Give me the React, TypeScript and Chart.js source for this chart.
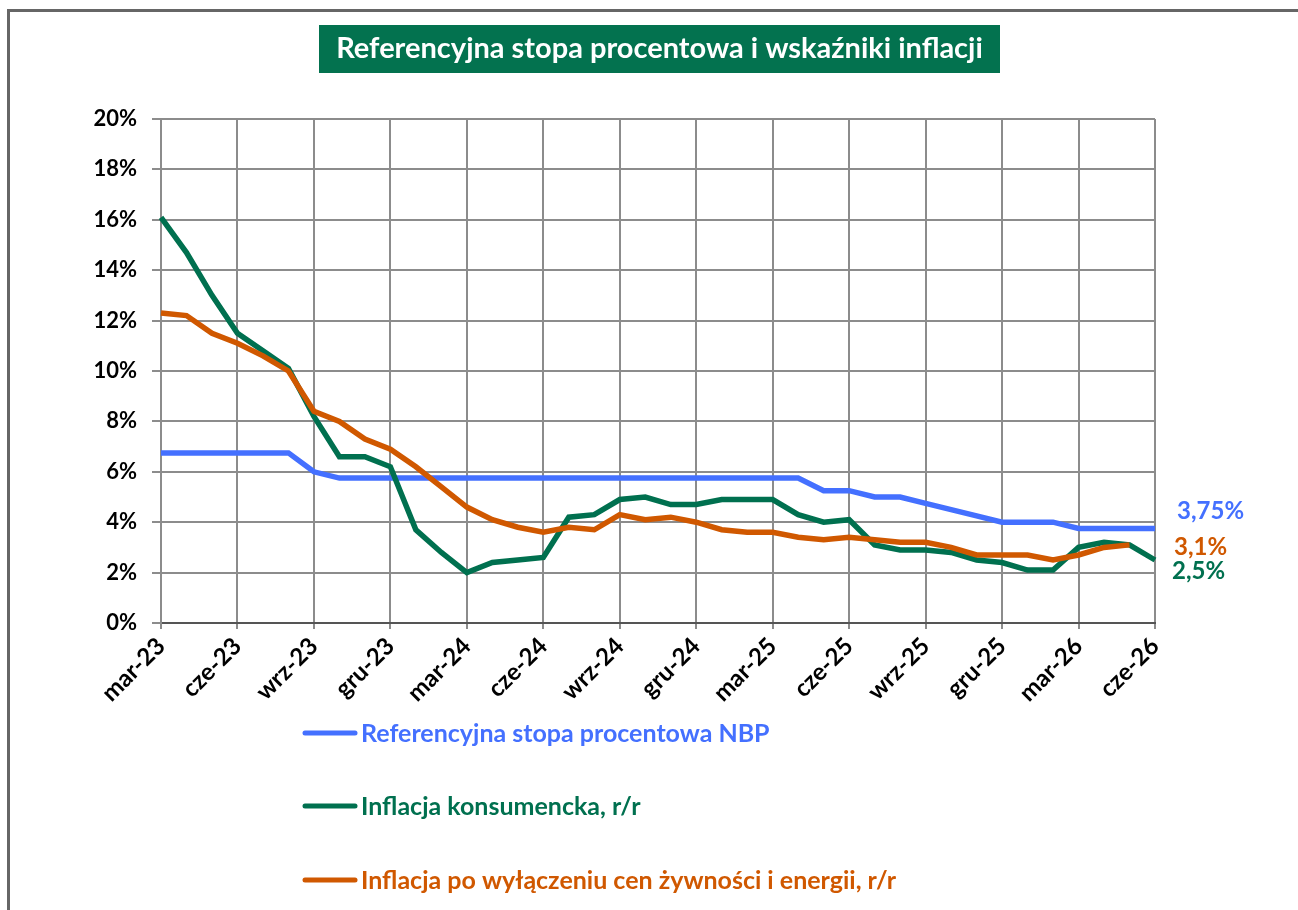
import React, { useEffect, useRef } from 'react';
import { Chart, registerables } from 'chart.js';

Chart.register(...registerables);

const FONT = 'Lato, "Open Sans", "DejaVu Sans", sans-serif';

const chartTitle = 'Referencyjna stopa procentowa i wskaźniki inflacji';

const months = [
  'mar-23', 'kwi-23', 'maj-23', 'cze-23', 'lip-23', 'sie-23', 'wrz-23', 'paź-23', 'lis-23', 'gru-23',
  'sty-24', 'lut-24', 'mar-24', 'kwi-24', 'maj-24', 'cze-24', 'lip-24', 'sie-24', 'wrz-24', 'paź-24', 'lis-24', 'gru-24',
  'sty-25', 'lut-25', 'mar-25', 'kwi-25', 'maj-25', 'cze-25', 'lip-25', 'sie-25', 'wrz-25', 'paź-25', 'lis-25', 'gru-25',
  'sty-26', 'lut-26', 'mar-26', 'kwi-26', 'maj-26', 'cze-26',
];

const nbpRate = [
  6.75, 6.75, 6.75, 6.75, 6.75, 6.75, 6.0, 5.75, 5.75, 5.75,
  5.75, 5.75, 5.75, 5.75, 5.75, 5.75, 5.75, 5.75, 5.75, 5.75,
  5.75, 5.75, 5.75, 5.75, 5.75, 5.75, 5.25, 5.25, 5.0, 5.0,
  4.75, 4.5, 4.25, 4.0, 4.0, 4.0, 3.75, 3.75, 3.75, 3.75,
];

const cpiInflation = [
  16.1, 14.7, 13.0, 11.5, 10.8, 10.1, 8.2, 6.6, 6.6, 6.2,
  3.7, 2.8, 2.0, 2.4, 2.5, 2.6, 4.2, 4.3, 4.9, 5.0,
  4.7, 4.7, 4.9, 4.9, 4.9, 4.3, 4.0, 4.1, 3.1, 2.9,
  2.9, 2.8, 2.5, 2.4, 2.1, 2.1, 3.0, 3.2, 3.1, 2.5,
];

const coreInflation = [
  12.3, 12.2, 11.5, 11.1, 10.6, 10.0, 8.4, 8.0, 7.3, 6.9,
  6.2, 5.4, 4.6, 4.1, 3.8, 3.6, 3.8, 3.7, 4.3, 4.1,
  4.2, 4.0, 3.7, 3.6, 3.6, 3.4, 3.3, 3.4, 3.3, 3.2,
  3.2, 3.0, 2.7, 2.7, 2.7, 2.5, 2.7, 3.0, 3.1, null,
];

const seriesNames = [
  'Referencyjna stopa procentowa NBP',
  'Inflacja konsumencka, r/r',
  'Inflacja po wyłączeniu cen żywności i energii, r/r',
];
const seriesColors = ['#4470FF', '#00704F', '#D05800'];

const yMin = 0;
const yMax = 20;
const yStep = 2;
const labelEvery = 3;

const fmtPct = (v: number) => String(v).replace('.', ',') + '%';

const decorPlugin = {
  id: 'decor',
  beforeDraw(chart: any) {
    const ctx = chart.ctx;
    ctx.save();
    ctx.fillStyle = '#ffffff';
    ctx.fillRect(0, 0, chart.width, chart.height);
    ctx.strokeStyle = '#666666';
    ctx.lineWidth = 3;
    ctx.beginPath();
    ctx.moveTo(8.5, chart.height);
    ctx.lineTo(8.5, 10.5);
    ctx.lineTo(chart.width, 10.5);
    ctx.stroke();
    // title box
    ctx.fillStyle = '#03724F';
    ctx.fillRect(319, 25, 681, 48);
    ctx.fillStyle = '#ffffff';
    ctx.font = `bold 29px ${FONT}`;
    ctx.textAlign = 'center';
    ctx.textBaseline = 'middle';
    ctx.fillText(chartTitle, 659.5, 49);
    ctx.restore();
  },
  afterDraw(chart: any) {
    const ctx = chart.ctx;
    const ca = chart.chartArea;
    const ys = chart.scales.y;
    // per dataset: blue, green, orange
    const offsets = [-17, 11, 2];
    const xOff = [22, 17, 19];
    ctx.save();
    ctx.font = `bold 24px ${FONT}`;
    ctx.textAlign = 'left';
    ctx.textBaseline = 'middle';
    chart.data.datasets.forEach((ds: any, i: number) => {
      let v: number | null = null;
      for (let k = ds.data.length - 1; k >= 0; k--) {
        if (ds.data[k] !== null && ds.data[k] !== undefined) { v = ds.data[k]; break; }
      }
      if (v === null) return;
      ctx.fillStyle = ds.borderColor;
      ctx.fillText(fmtPct(v), ca.right + xOff[i], ys.getPixelForValue(v) + offsets[i]);
    });
    // legend
    const legendY = [733, 806, 880];
    ctx.font = `bold 25px ${FONT}`;
    chart.data.datasets.forEach((ds: any, i: number) => {
      ctx.strokeStyle = ds.borderColor;
      ctx.lineWidth = 5;
      ctx.lineCap = 'round';
      ctx.beginPath();
      ctx.moveTo(305, legendY[i]);
      ctx.lineTo(355, legendY[i]);
      ctx.stroke();
      ctx.fillStyle = ds.borderColor;
      ctx.fillText(ds.label, 361, legendY[i] + 1);
    });
    ctx.restore();
  },
};

export default function App() {
  const ref = useRef<HTMLCanvasElement | null>(null);
  useEffect(() => {
    if (!ref.current) return;
    const gridColor = (c: any) => (c.index % labelEvery === 0 ? '#8c8c8c' : 'rgba(0,0,0,0)');
    const datasets = [nbpRate, cpiInflation, coreInflation].map((d, i) => ({
      label: seriesNames[i],
      data: d,
      borderColor: seriesColors[i],
      backgroundColor: seriesColors[i],
      borderWidth: 5.5,
      pointRadius: 0,
      tension: 0,
      fill: false,
      spanGaps: false,
      order: 2 - i,
    }));
    const chart = new Chart(ref.current, {
      type: 'line',
      data: { labels: months, datasets },
      plugins: [decorPlugin],
      options: {
        responsive: false,
        animation: false,
        layout: { padding: { left: 0, top: 119, right: 143, bottom: 0 } },
        plugins: { legend: { display: false }, tooltip: { enabled: false }, title: { display: false } },
        scales: {
          x: {
            type: 'category',
            offset: false,
            grid: { color: gridColor, lineWidth: 2, tickLength: 6, drawOnChartArea: true },
            border: { color: '#555555', width: 2 },
            ticks: {
              autoSkip: false,
              minRotation: 45,
              maxRotation: 45,
              padding: 3,
              color: '#000000',
              font: { family: FONT, size: 24, weight: 'bold' },
              callback: (val: any, idx: number) => (idx % labelEvery === 0 ? months[idx] : ''),
            },
            afterFit: (s: any) => { s.height = 910 - 623; },
          },
          y: {
            min: yMin,
            max: yMax,
            grid: { color: '#8c8c8c', lineWidth: 2, tickLength: 9 },
            border: { color: '#8c8c8c', width: 2 },
            ticks: {
              stepSize: yStep,
              padding: 15,
              color: '#000000',
              font: { family: FONT, size: 22, weight: 'bold' },
              callback: (v: any) => `${v}%`,
            },
            afterFit: (s: any) => { s.width = 161; },
          },
        },
      },
    } as any);
    return () => chart.destroy();
  }, []);
  return (
    <div style={{ position: 'absolute', left: 0, top: 0, width: 1298, height: 910 }}>
      <canvas ref={ref} width={1298} height={910} style={{ display: 'block' }} />
    </div>
  );
}
